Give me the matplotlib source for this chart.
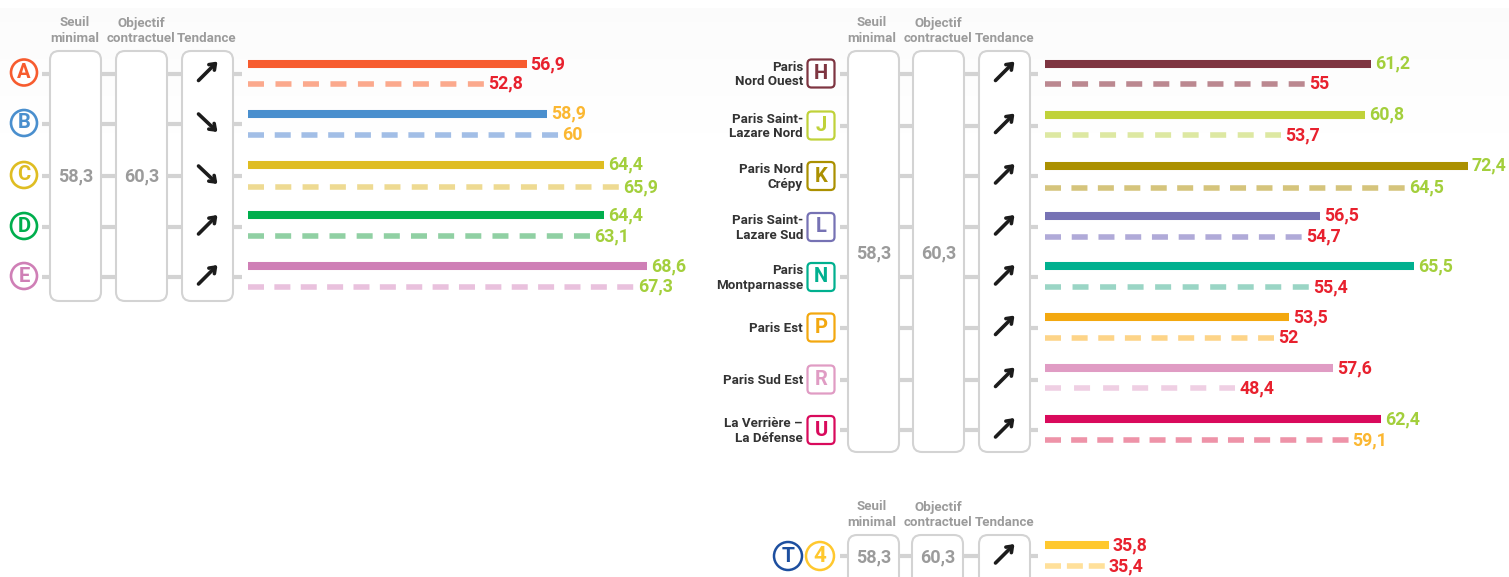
import matplotlib
matplotlib.use("Agg")
import matplotlib.pyplot as plt
from matplotlib.patches import FancyBboxPatch, Circle
import numpy as np

plt.rcParams['font.family'] = ['Roboto', 'DejaVu Sans']
plt.rcParams['font.weight'] = 'bold'

seuil = 58.3
objectif = 60.3

# RER lines
left_letters = ['A', 'B', 'C', 'D', 'E']
left_solid = [56.9, 58.9, 64.4, 64.4, 68.6]
left_dash = [52.8, 60, 65.9, 63.1, 67.3]
left_trend = ['up', 'down', 'down', 'up', 'up']
left_colors = ['#f75c2f', '#4a8fce', '#dfbd22', '#00ae4d', '#cf7fb6']
left_pale = ['#fba98d', '#a2bee6', '#eeda92', '#90d0a3', '#e9c1dd']

# Transilien lines
right_letters = ['H', 'J', 'K', 'L', 'N', 'P', 'R', 'U']
right_names = ['Paris\nNord Ouest', 'Paris Saint-\nLazare Nord', 'Paris Nord\nCrépy',
               'Paris Saint-\nLazare Sud', 'Paris\nMontparnasse', 'Paris Est',
               'Paris Sud Est', 'La Verrière –\nLa Défense']
right_solid = [61.2, 60.8, 72.4, 56.5, 65.5, 53.5, 57.6, 62.4]
right_dash = [55, 53.7, 64.5, 54.7, 55.4, 52, 48.4, 59.1]
# the source draws these a little off scale
right_solid_drawn = [61.5, 60.9, 71.0, 56.5, 65.7, 53.5, 57.8, 62.5]
right_dash_drawn = [55, 52.7, 64.8, 54.7, 55.4, 52, 48.2, 59.3]
right_trend = ['up'] * 8
right_colors = ['#7e3541', '#c0d23a', '#ab9000', '#7672b4', '#00b08f', '#f3a80f', '#e09cc4', '#d90a5c']
right_pale = ['#bb8890', '#dde8a2', '#d5c47c', '#b0aad8', '#9ad5c5', '#fdd488', '#efcfe3', '#ee93a8']

# tram T4
t4_solid = 35.8
t4_dash = 35.4
t4_color = '#ffc82e'
t4_pale = '#ffe09a'

GREY = '#d3d3d3'
TXT = '#9b9b9b'
DARK = '#333333'
DASH_LW = 4.0  # pt
DASH_PX = DASH_LW * 100 / 72


def fr(v):
    return f'{v:g}'.replace('.', ',')


def value_color(v):
    if v >= objectif:
        return '#a3cf3c'
    if v >= seuil:
        return '#fbb731'
    return '#e8212e'


fig = plt.figure(figsize=(15.09, 5.77), dpi=100)
ax = fig.add_axes([0, 0, 1, 1])
ax.set_xlim(0, 1509)
ax.set_ylim(577, 0)
ax.axis('off')

# faint background fade at the top
grad = np.ones((577, 1))
grad[8:170, 0] = np.linspace(0.983, 1, 162)
ax.imshow(grad, extent=[0, 1509, 577, 0], aspect='auto', cmap='gray', vmin=0, vmax=1, zorder=0)
ax.set_xlim(0, 1509)
ax.set_ylim(577, 0)


def box(x0, x1, y0, y1):
    ax.add_patch(FancyBboxPatch((x0 + 9, y0 + 9), x1 - x0 - 18, y1 - y0 - 18,
                                boxstyle='round,pad=9,rounding_size=9',
                                fc='white', ec=GREY, lw=1.5, zorder=3))


def arrow(cx, cy, trend):
    if trend == 'up':
        a, b = (cx - 9, cy + 8), (cx + 10, cy - 11)
    else:
        a, b = (cx - 9, cy - 9), (cx + 10, cy + 9)
    ax.annotate('', xy=b, xytext=a, zorder=5,
                arrowprops=dict(arrowstyle='->,head_length=0.38,head_width=0.28', color='#1c1c1c',
                                lw=2.6, shrinkA=0, shrinkB=0))


def headers(xs, y):
    kw = dict(ha='center', va='bottom', color=TXT, fontsize=9.6)
    ax.text(xs[0], y, 'Seuil\nminimal', linespacing=1.2, **kw)
    ax.text(xs[1], y, 'Objectif\ncontractuel', linespacing=1.2, **kw)
    ax.text(xs[2], y, 'Tendance', **kw)


def frame(x_cols, y0, y1, x_conn, rows, trends, val_y):
    for y in rows:
        ax.plot(x_conn, [y, y], color=GREY, lw=3, solid_capstyle='butt', zorder=2)
    for x in x_cols:
        box(x, x + 51, y0, y1)
    ax.text(x_cols[0] + 25.5, val_y, fr(seuil), ha='center', va='center', color=TXT, fontsize=13, zorder=5)
    ax.text(x_cols[1] + 25.5, val_y, fr(objectif), ha='center', va='center', color=TXT, fontsize=13, zorder=5)
    for y, t in zip(rows, trends):
        arrow(x_cols[2] + 25.5, y - 1, t)


def bars(a, base, scale, vals, drawn, ys, colors, dashed):
    for v, d, y, c in zip(vals, drawn, ys, colors):
        if dashed:
            # the dash period is fitted so that every line ends on a whole dash
            length = (d - base) * scale
            n = max(round((length + 11) / 27), 1)
            gap = (length - 16 * n) / (n - 1) if n > 1 else 11
            a.plot([base, d], [y, y], color=c, lw=DASH_LW,
                   ls=(0, (16 / DASH_PX, gap / DASH_PX)), dash_capstyle='butt')
        else:
            a.plot([base, d], [y, y], color=c, lw=5.8, solid_capstyle='butt')
        a.annotate(fr(v), (d, y), xytext=(2.9, 0), textcoords='offset points', va='center', ha='left',
                   color=value_color(v), fontsize=12.8)


def bar_axes(px0, px1, scale, zero):
    a = fig.add_axes([px0 / 1509, 0, (px1 - px0) / 1509, 1])
    a.set_xlim((px0 - zero) / scale, (px1 - zero) / scale)
    a.set_ylim(577, 0)
    a.axis('off')
    return a


# left panel
rows_l = [73.5, 124, 176, 227, 277]
headers([75, 141, 207], 44.5)
frame([50, 116, 182], 51, 301, [42, 242], rows_l, left_trend, 176)
for y, l, c in zip(rows_l, left_letters, left_colors):
    ax.add_patch(Circle((24, y - 1), 13, fc='white', ec=c, lw=1.9, zorder=4))
    ax.text(24, y - 1, l, ha='center', va='center', color=c, fontsize=14.5, zorder=5)

ax_l = bar_axes(0, 700, 10.3, -59.5)
bars(ax_l, 29.9, 10.3, left_solid, left_solid, [64, 113.5, 164.5, 215, 266], left_colors, False)
bars(ax_l, 29.9, 10.3, left_dash, left_dash, [83.5, 134.5, 187, 236, 286.5], left_pale, True)

# right panel
rows_r = [73.5, 125.5, 176, 227, 277, 327.5, 379.5, 430]
headers([872, 938, 1005], 44.5)
frame([848, 913, 979], 51, 452, [840, 1038], rows_r, right_trend, 253)
for y, l, c, n in zip(rows_r, right_letters, right_colors, right_names):
    ax.add_patch(FancyBboxPatch((812, y - 9.5), 18, 19, boxstyle='round,pad=4.5,rounding_size=4',
                                fc='white', ec=c, lw=1.6, zorder=4))
    ax.text(821, y, l, ha='center', va='center', color=c, fontsize=14.5, zorder=5)
    ax.text(803, y + 1, n, ha='right', va='center', color=DARK, fontsize=9.6, linespacing=1.12, zorder=5)

ax_r = bar_axes(720, 1509, 10.2, 743.7)
bars(ax_r, 29.54, 10.2, right_solid, right_solid_drawn,
     [63.5, 114.5, 165.5, 215.5, 266, 317, 368, 419], right_colors, False)
bars(ax_r, 29.54, 10.2, right_dash, right_dash_drawn,
     [84, 135, 187.5, 236.5, 287, 338, 388, 440], right_pale, True)

# tram T4
headers([872, 938, 1005], 528.5)
frame([848, 912, 979], 535, 590, [840, 1038], [556], ['up'], 557)
ax.add_patch(Circle((788, 556), 14, fc='white', ec='#1d4f9f', lw=1.8, zorder=4))
ax.text(788, 556, 'T', ha='center', va='center', color='#1d4f9f', fontsize=15, zorder=5)
ax.add_patch(Circle((820, 556), 14, fc='white', ec=t4_color, lw=1.8, zorder=4))
ax.text(820, 556, '4', ha='center', va='center', color=t4_color, fontsize=16, zorder=5)
bars(ax_r, 29.54, 10.2, [t4_solid], [t4_solid], [545], [t4_color], False)
bars(ax_r, 29.54, 10.2, [t4_dash], [t4_dash], [566], [t4_pale], True)

fig.savefig('out.png', dpi=100)
